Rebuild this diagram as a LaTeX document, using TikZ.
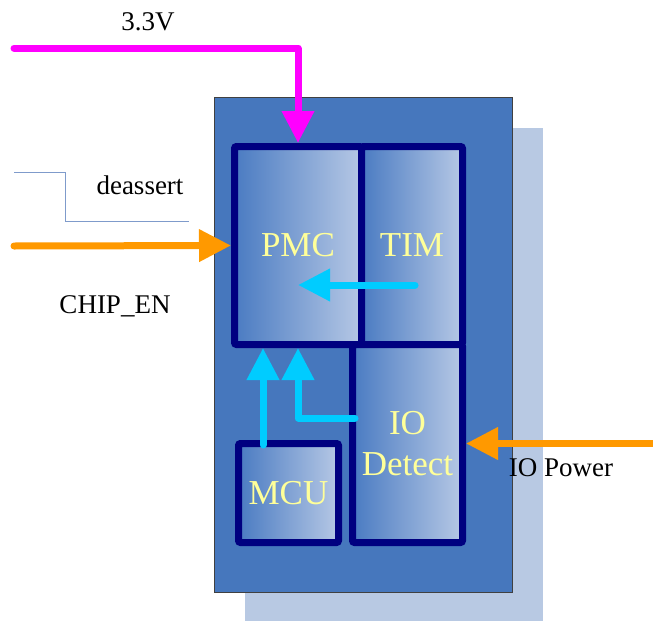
\documentclass[tikz,border=0pt]{standalone}
\usepackage{fontspec}
\setmainfont{Liberation Serif}
\usepackage{tikz}
\usetikzlibrary{arrows.meta,positioning,calc}

\definecolor{chipfill}{HTML}{4677BD}
\definecolor{shadowc}{HTML}{B8C9E3}
\definecolor{navyc}{HTML}{000080}
\definecolor{boxl}{HTML}{4A7BC2}
\definecolor{boxr}{HTML}{B6C8E5}
\definecolor{txty}{HTML}{FFFF99}
\definecolor{pinkc}{HTML}{FF00FF}
\definecolor{orangec}{HTML}{FF9900}
\definecolor{cyanc}{HTML}{00CCFF}
\definecolor{thinc}{HTML}{7F9BCB}

\begin{document}
\begin{tikzpicture}[x=1pt,y=-1pt,
  blk/.style={draw=navyc,line width=7pt,rounded corners=2pt,left color=boxl,right color=boxr,
    text=txty,font=\fontsize{35}{41}\selectfont,inner sep=0pt,align=center},
  pwr/.style={line width=7pt,line cap=round,line join=round,-{Triangle[length=32pt,width=31pt]}},
  sig/.style={line width=7pt,draw=cyanc,line cap=round,line join=round,-{Triangle[length=32pt,width=31pt]}},
  lbl/.style={font=\fontsize{27}{30}\selectfont,inner sep=0pt}]
  \useasboundingbox (0,0) rectangle (653,621);

  % chip body with its shadow
  \fill[shadowc] (245,128) rectangle (543,621);
  \draw[fill=chipfill,draw=black!75,line width=0.8pt] (214,97) rectangle (512,592);

  \node[blk,minimum width=127pt,minimum height=198pt] (pmc) at (298,245.5) {PMC};
  \node[blk,minimum width=101pt,minimum height=198pt] (tim) at (412,245.5) {TIM};
  \node[blk,minimum width=110pt,minimum height=198pt] (io) at (407.5,443.5) {IO\\Detect};
  \node[blk,minimum width=100pt,minimum height=99pt] (mcu) at (288.5,493) {MCU};

  % inputs
  \coordinate (vin) at (14,48);
  \coordinate (enin) at (14,246);
  \coordinate (iopin) at (655,443.5);
  \draw[pwr,pinkc] (vin) -| (pmc.north);
  \draw[pwr,orangec] (enin) -- (pmc.west);
  \draw[pwr,orangec] (iopin) -- (io.east);
  \draw[thinc,line width=1pt] (14,172) -- (65,172) -- (65,221) -- (189,221);

  % internal signals
  \coordinate (t1) at (415,285);
  \coordinate (m1) at (263,445);
  \coordinate (d1) at (355,418);
  \draw[sig] (t1) -- (t1 -| pmc.center);
  \draw[sig] (m1) -- (m1 |- pmc.south);
  \draw[sig] (d1) -| (pmc.south);

  \node[lbl] (lv) at (148,22) {3.3V};
  \node[lbl] (lde) at (140,185) {deassert};
  \node[lbl] (len) at (115,306) {CHIP\_EN};
  \node[lbl] (lio) at (561,468) {IO Power};
\end{tikzpicture}
\end{document}
